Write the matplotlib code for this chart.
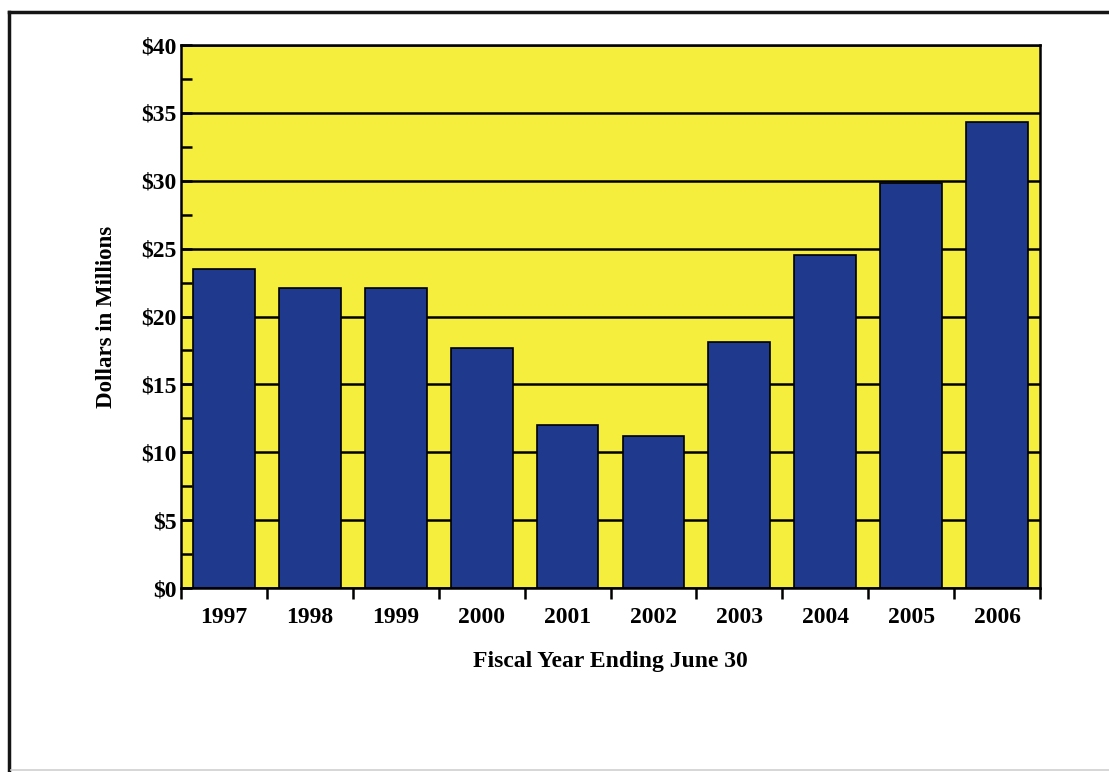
import numpy as np
import matplotlib
matplotlib.use("Agg")
import matplotlib.pyplot as plt
from matplotlib.lines import Line2D
from matplotlib.ticker import MultipleLocator, FixedLocator

# Data (millions of dollars)
years = ["1997", "1998", "1999", "2000", "2001", "2002", "2003", "2004", "2005", "2006"]
values = [23.5, 22.1, 22.1, 17.7, 12.0, 11.2, 18.1, 24.5, 29.8, 34.35]

yellow = "#F5EE3C"
navy = "#1F3A8C"

plt.rcParams["font.family"] = ["Liberation Serif", "DejaVu Serif"]
plt.rcParams["font.weight"] = "bold"

fig = plt.figure(figsize=(11.09, 7.72), dpi=100)
fig.patch.set_facecolor("white")

# page frame (top and left rules, faint bottom rule)
fig.add_artist(Line2D([0.008, 1.0], [0.985, 0.985], color="#151515", lw=2.5,
                      transform=fig.transFigure))
fig.add_artist(Line2D([0.0085, 0.0085], [0.0, 0.985], color="#151515", lw=2.5,
                      transform=fig.transFigure))
fig.add_artist(Line2D([0.01, 1.0], [0.003, 0.003], color="#cfcfcf", lw=1.2,
                      transform=fig.transFigure))

ax = fig.add_axes([0.1632, 0.2383, 0.9378 - 0.1632, 0.9417 - 0.2383])
ax.set_facecolor(yellow)

x = np.arange(len(years))
ax.bar(x, values, width=0.72, color=navy, edgecolor="black", linewidth=1.2, zorder=3)

ax.set_xlim(-0.5, len(years) - 0.5)
ax.set_ylim(0, 40)

# gridlines at every $5
ax.yaxis.set_major_locator(MultipleLocator(5))
ax.yaxis.set_minor_locator(MultipleLocator(2.5))
ax.grid(axis="y", which="major", color="black", lw=1.8, zorder=1)
ax.set_yticklabels([f"${int(v)}" for v in ax.get_yticks()])
ax.tick_params(axis="y", which="both", direction="in", length=8, width=1.8,
               labelsize=17, pad=3)

ax.set_xticks(x)
ax.set_xticklabels(years)
ax.xaxis.set_minor_locator(FixedLocator(np.arange(-0.5, len(years), 1.0)))
ax.tick_params(axis="x", which="major", length=0, labelsize=17, pad=14)
ax.tick_params(axis="x", which="minor", direction="out", length=8, width=1.8)

for s in ax.spines.values():
    s.set_linewidth(1.8)
    s.set_zorder(4)

ax.set_ylabel("Dollars in Millions", fontsize=16.5, fontweight="bold")
ax.yaxis.set_label_coords(-0.0745, 0.5)
ax.set_xlabel("Fiscal Year Ending June 30", fontsize=17, fontweight="bold")
ax.xaxis.set_label_coords(0.5, -0.116)

plt.savefig("out.png", dpi=100)
